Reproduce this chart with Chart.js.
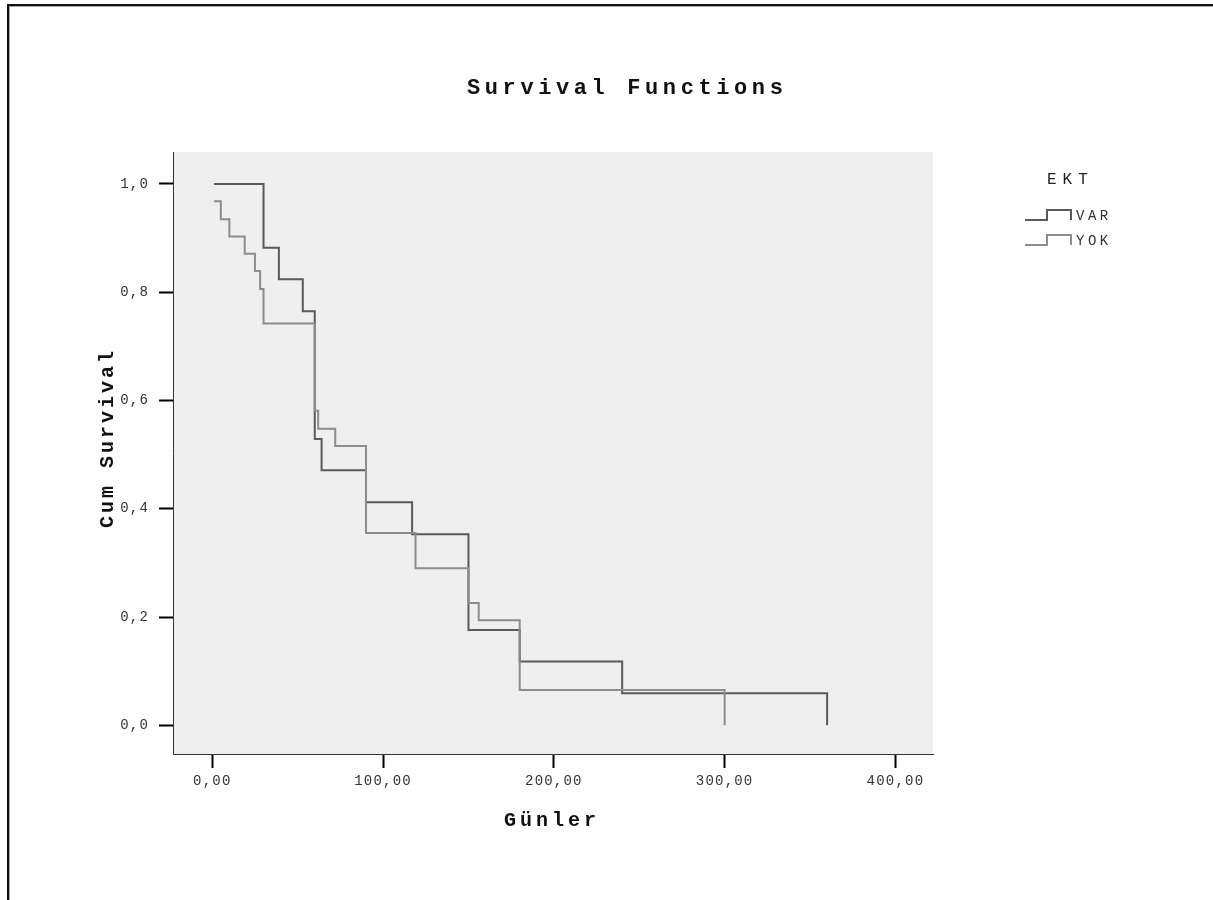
<!DOCTYPE html>
<html>
<head>
<meta charset="utf-8">
<title>Survival Functions</title>
<script src="https://cdn.jsdelivr.net/npm/chart.js@4.4.0/dist/chart.umd.min.js"></script>
<style>
  html, body { margin: 0; padding: 0; background: #fff; }
  #wrap { position: relative; width: 1213px; height: 900px; overflow: hidden; }
  #frame {
    position: absolute; left: 7px; top: 4px; width: 1300px; height: 1000px;
    border-top: 2px solid #111; border-left: 2px solid #111;
    box-shadow: inset 1px 1px 0 #aaa;
  }
  canvas { position: absolute; left: 0; top: 0; }
</style>
</head>
<body>
<div id="wrap">
  <div id="frame"></div>
  <canvas id="survivalChart" width="1213" height="900"></canvas>
</div>
<script>
// groups (EKT)
const groupLabels = ['VAR', 'YOK'];
const groupColors = ['#5a5a5a', '#8c8c8c'];

// Kaplan-Meier steps: time (Günler) and cum survival after the drop
const varTimes = [1, 30, 39, 53, 60, 64, 90, 117, 150, 180, 240, 360];
const varSurvival = [1.0, 0.882, 0.824, 0.765, 0.529, 0.471, 0.412, 0.353, 0.176, 0.118, 0.059, 0.0];
const yokTimes = [1, 5, 10, 19, 25, 28, 30, 60, 62, 72, 90, 119, 150, 156, 180, 300];
const yokSurvival = [0.968, 0.935, 0.903, 0.871, 0.839, 0.806, 0.742, 0.581, 0.548, 0.516, 0.355, 0.290, 0.226, 0.194, 0.065, 0.0];

// tick labels
const xTickValues = [0, 100, 200, 300, 400];
const xTickLabels = ['0,00', '100,00', '200,00', '300,00', '400,00'];
const yTickValues = [0, 0.2, 0.4, 0.6, 0.8, 1.0];
const yTickLabels = ['0,0', '0,2', '0,4', '0,6', '0,8', '1,0'];

const monoFont = '"Liberation Mono", "DejaVu Sans Mono", monospace';

function toPoints(times, values) {
    return times.map((t, i) => ({ x: t, y: values[i] }));
}

// grey plot area, and the letter spacing for tick labels
const plotBackground = {
    id: 'plotBackground',
    beforeDraw(chart) {
        const { ctx, chartArea: a } = chart;
        ctx.fillStyle = '#efefef';
        ctx.fillRect(a.left, a.top, a.right - a.left, a.bottom - a.top);
        ctx.letterSpacing = '1.2px';
    }
};

// title, axis titles and legend, drawn with their own spacing
const spssText = {
    id: 'spssText',
    afterDraw(chart) {
        const ctx = chart.ctx;
        ctx.save();
        ctx.fillStyle = '#111';
        ctx.textAlign = 'left';
        ctx.textBaseline = 'alphabetic';

        ctx.font = 'bold 22px ' + monoFont;
        ctx.letterSpacing = '4.6px';
        ctx.fillText('Survival Functions', 467, 94);

        ctx.font = 'bold 20px ' + monoFont;
        ctx.letterSpacing = '4px';
        ctx.fillText('Günler', 504, 826);

        ctx.save();
        ctx.translate(113, 528);
        ctx.rotate(-Math.PI / 2);
        ctx.letterSpacing = '3px';
        ctx.fillText('Cum Survival', 0, 0);
        ctx.restore();

        // legend
        ctx.fillStyle = '#222';
        ctx.font = '16px ' + monoFont;
        ctx.letterSpacing = '6px';
        ctx.fillText('EKT', 1047, 184);

        ctx.font = '14px ' + monoFont;
        ctx.letterSpacing = '3.5px';
        chart.data.datasets.forEach((ds, i) => {
            const y = 220 + i * 25;
            ctx.strokeStyle = ds.borderColor;
            ctx.lineWidth = 2;
            ctx.beginPath();
            ctx.moveTo(1025, y);
            ctx.lineTo(1047, y);
            ctx.lineTo(1047, y - 10);
            ctx.lineTo(1071, y - 10);
            ctx.lineTo(1071, y);
            ctx.stroke();
            ctx.fillStyle = '#333';
            ctx.fillText(ds.label, 1076, y);
        });
        ctx.restore();
    }
};

const ctx = document.getElementById('survivalChart').getContext('2d');

new Chart(ctx, {
    type: 'line',
    data: {
        datasets: [
            { label: groupLabels[0], data: toPoints(varTimes, varSurvival), borderColor: groupColors[0], order: 2 },
            { label: groupLabels[1], data: toPoints(yokTimes, yokSurvival), borderColor: groupColors[1], order: 1 }
        ]
    },
    options: {
        responsive: false,
        animation: false,
        layout: { padding: { left: 0, top: 152, right: 280, bottom: 46 } },
        elements: {
            line: { stepped: true, borderWidth: 2, fill: false, tension: 0, borderCapStyle: 'butt', borderJoinStyle: 'miter' },
            point: { radius: 0, hoverRadius: 0 }
        },
        plugins: {
            legend: { display: false },
            title: { display: false },
            tooltip: { enabled: false }
        },
        scales: {
            x: {
                type: 'linear',
                min: -23,
                max: 422,
                afterBuildTicks: (axis) => { axis.ticks = xTickValues.map(v => ({ value: v })); },
                afterFit: (axis) => { axis.height = 100; },
                grid: { drawOnChartArea: false, drawTicks: true, tickLength: 14, tickWidth: 2, tickColor: '#000', color: 'rgba(0,0,0,0)' },
                border: { display: true, color: '#333', width: 1 },
                ticks: {
                    padding: 5,
                    color: '#333',
                    autoSkip: false,
                    maxRotation: 0,
                    font: { family: monoFont, size: 14 },
                    callback: (v, i) => xTickLabels[i]
                }
            },
            y: {
                type: 'linear',
                min: -0.053,
                max: 1.059,
                afterBuildTicks: (axis) => { axis.ticks = yTickValues.map(v => ({ value: v })); },
                afterFit: (axis) => { axis.width = 173; },
                grid: { drawOnChartArea: false, drawTicks: true, tickLength: 14, tickWidth: 2, tickColor: '#000', color: 'rgba(0,0,0,0)' },
                border: { display: true, color: '#333', width: 1 },
                ticks: {
                    padding: 10,
                    color: '#333',
                    autoSkip: false,
                    font: { family: monoFont, size: 14 },
                    callback: (v, i) => yTickLabels[i]
                }
            }
        }
    },
    plugins: [plotBackground, spssText]
});
</script>
</body>
</html>
